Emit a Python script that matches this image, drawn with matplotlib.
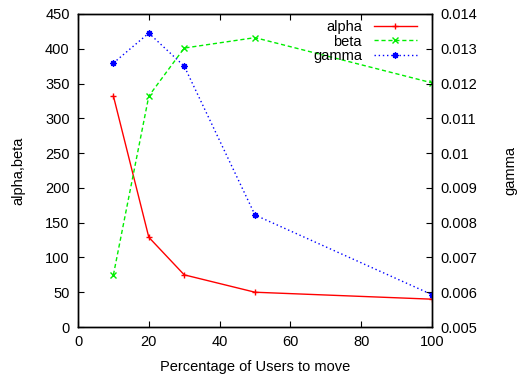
import matplotlib
matplotlib.use("Agg")
import matplotlib.pyplot as plt

plt.rcParams['font.family'] = ['Liberation Sans', 'DejaVu Sans']
plt.rcParams['font.size'] = 10.5

# percentage of users moved
pct = [10, 20, 30, 50, 100]
alpha = [332, 129, 75, 50, 40]
beta = [75, 332, 401, 416, 351]
gamma = [0.01259, 0.01345, 0.0125, 0.00822, 0.00593]

fig = plt.figure(figsize=(5.18, 3.76), dpi=100)
ax = fig.add_axes([0.1506, 0.1303, 0.6834, 0.8325])
ax2 = ax.twinx()

star = (8, 2, 0)
l1, = ax.plot(pct, alpha, color='#ff0000', lw=1, marker='+', ms=5, mew=1, label='alpha')
l2, = ax.plot(pct, beta, color='#00ee00', lw=1, ls=(0, (3, 2)), marker='x', ms=4, mew=1, label='beta')
l3, = ax2.plot(pct, gamma, color='#0000ff', lw=1, ls=(0, (1, 2)), marker=star, ms=4.5, mew=1, label='gamma')

ax.set_xlim(0, 100)
ax.set_ylim(0, 450)
ax2.set_ylim(0.005, 0.014)
ax.set_xticks(range(0, 101, 20))
ax.set_yticks(range(0, 451, 50))
ax2.set_yticks([0.005, 0.006, 0.007, 0.008, 0.009, 0.01, 0.011, 0.012, 0.013, 0.014])
ax2.set_yticklabels(['0.005', '0.006', '0.007', '0.008', '0.009', '0.01',
                     '0.011', '0.012', '0.013', '0.014'])

ax.tick_params(axis='x', direction='in', top=True, length=4, pad=6)
ax.tick_params(axis='y', direction='in', left=True, right=False, length=4, pad=6)
ax2.tick_params(axis='y', direction='in', right=True, left=False, length=4, pad=6)
for a in (ax, ax2):
    for s in a.spines.values():
        s.set_linewidth(1)

ax.set_xlabel('Percentage of Users to move', labelpad=8)
ax.set_ylabel('alpha,beta', labelpad=14)
ax2.set_ylabel('gamma', labelpad=19)

ax.legend([l1, l2, l3], ['alpha', 'beta', 'gamma'], loc='upper right',
          frameon=False, markerfirst=False, handlelength=3.0,
          labelspacing=0.05, borderaxespad=0.0, handletextpad=0.8,
          bbox_to_anchor=(0.975, 1.0))

fig.savefig('out.png', dpi=100)
